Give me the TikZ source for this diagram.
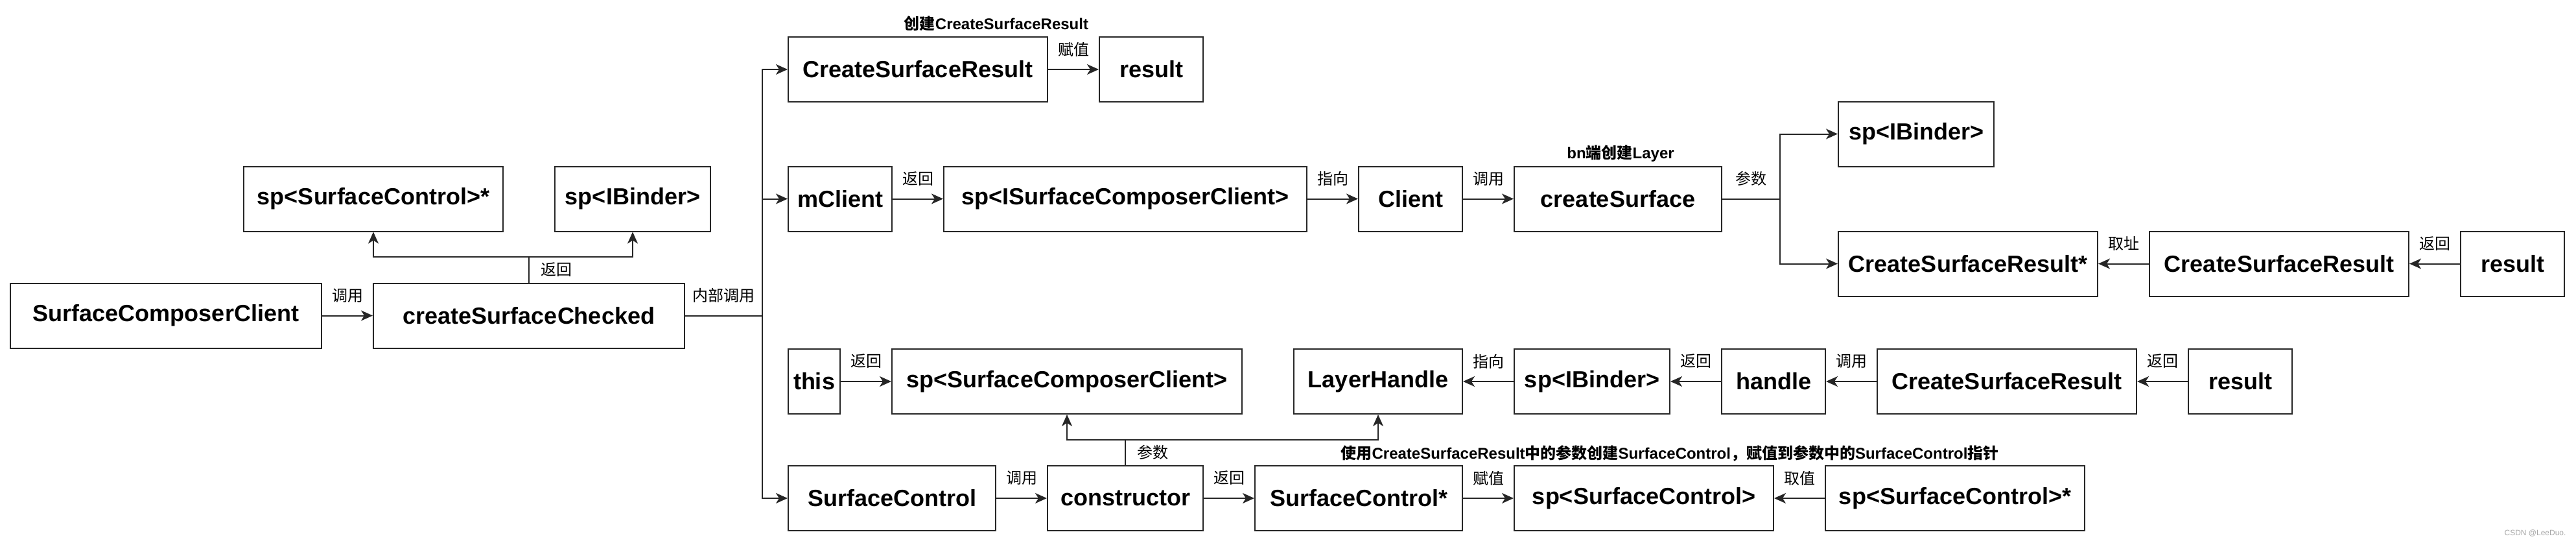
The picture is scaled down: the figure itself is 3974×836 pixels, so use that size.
\documentclass[tikz,border=0pt]{standalone}
\usepackage{fontspec}
\setmainfont{Liberation Sans}
\newfontfamily\cjk{Noto Sans CJK SC}
\usetikzlibrary{arrows.meta}
\newcommand{\zh}[1]{{\cjk #1}}
\begin{document}
\begin{tikzpicture}[x=1pt,y=-1pt,
  box/.style={draw=black!85, line width=2pt, font=\bfseries\fontsize{36}{40}\selectfont, inner sep=0pt, minimum height=100pt},
  arr/.style={line width=2pt, draw=black!85, -{Stealth[length=18pt,width=16pt,inset=5pt]}},
  ln/.style={line width=2pt, draw=black!85},
  lbl/.style={font=\fontsize{24}{28}\selectfont, inner sep=0pt},
  blbl/.style={font=\bfseries\fontsize{24}{28}\selectfont, inner sep=0pt},
  el/.style={lbl, midway, yshift=31pt},
]
\useasboundingbox (0,0) rectangle (3974,836);
\fill[white] (0,0) rectangle (3974,836);

% left group
\node[box, minimum width=480pt] (scc) at (256,486.5) {SurfaceComposerClient};
\node[box, minimum width=480pt] (csc) at (816,486.5) {createSurfaceChecked};
\node[box, minimum width=400pt] (spsc1) at (576,306.5) {sp<SurfaceControl>*};
\node[box, minimum width=240pt] (spib1) at (976,306.5) {sp<IBinder>};

% top row
\node[box, minimum width=400pt] (csr1) at (1416,107) {CreateSurfaceResult};
\node[box, minimum width=160pt] (res1) at (1776,107) {result};

% mClient row
\node[box, minimum width=160pt] (mclient) at (1296,306.5) {mClient};
\node[box, minimum width=560pt] (spiscc) at (1736,306.5) {sp<ISurfaceComposerClient>};
\node[box, minimum width=160pt] (client) at (2176,306.5) {Client};
\node[box, minimum width=320pt] (cs) at (2496,306.5) {createSurface};
\node[box, minimum width=240pt] (spib2) at (2956,206.5) {sp<IBinder>};
\node[box, minimum width=400pt] (csrstar) at (3036,406.5) {CreateSurfaceResult*};
\node[box, minimum width=400pt] (csr2) at (3516,406.5) {CreateSurfaceResult};
\node[box, minimum width=160pt] (res2) at (3876,406.5) {result};

% this row
\node[box, minimum width=80pt] (this) at (1256,588) {this};
\node[box, minimum width=540pt] (spscc) at (1646,588) {sp<SurfaceComposerClient>};
\node[box, minimum width=260pt] (lh) at (2126,588) {LayerHandle};
\node[box, minimum width=240pt] (spib3) at (2456,588) {sp<IBinder>};
\node[box, minimum width=160pt] (handle) at (2736,588) {handle};
\node[box, minimum width=400pt] (csr3) at (3096,588) {CreateSurfaceResult};
\node[box, minimum width=160pt] (res3) at (3456,588) {result};

% bottom row
\node[box, minimum width=320pt] (sc) at (1376,768) {SurfaceControl};
\node[box, minimum width=240pt] (ctor) at (1736,768) {constructor};
\node[box, minimum width=320pt] (scstar) at (2096,768) {SurfaceControl*};
\node[box, minimum width=400pt] (spsc2) at (2536,768) {sp<SurfaceControl>};
\node[box, minimum width=400pt] (spsc3) at (3016,768) {sp<SurfaceControl>*};

% annotations
\node[blbl] (ann1) at (1537,36) {\zh{创建}CreateSurfaceResult};
\node[blbl] (ann2) at (2500,237) {bn\zh{端创建}Layer};
\node[blbl] (ann3) at (2576,699) {\zh{使用}CreateSurfaceResult\zh{中的参数创建}SurfaceControl\zh{，赋值到参数中的}SurfaceControl\zh{指针}};
\node[font=\fontsize{12}{14}\selectfont, text=gray!70, inner sep=0pt] (wm) at (3911,822) {CSDN @LeeDuo.};

% left edges
\draw[arr] (scc) -- node[el]{\zh{调用}} (csc);
\coordinate (b1) at (816,396);
\draw[ln] (csc.north) -- node[lbl, midway, anchor=west, xshift=17pt]{\zh{返回}} (b1);
\draw[arr] (b1) -| (spsc1.south);
\draw[arr] (b1) -| (spib1.south);

% trunk
\coordinate (j) at (1176,486.5);
\draw[ln] (csc.east) -- node[el]{\zh{内部调用}} (j);
\draw[arr] (j) |- (csr1.west);
\draw[arr] (j) |- (mclient.west);
\draw[arr] (j) |- (sc.west);

% top row
\draw[arr] (csr1) -- node[el]{\zh{赋值}} (res1);

% mClient row
\draw[arr] (mclient) -- node[el]{\zh{返回}} (spiscc);
\draw[arr] (spiscc) -- node[el]{\zh{指向}} (client);
\draw[arr] (client) -- node[el]{\zh{调用}} (cs);
\coordinate (b3) at (2746,306.5);
\draw[ln] (cs.east) -- node[el]{\zh{参数}} (b3);
\draw[arr] (b3) |- (spib2.west);
\draw[arr] (b3) |- (csrstar.west);
\draw[arr] (csr2) -- node[el]{\zh{取址}} (csrstar);
\draw[arr] (res2) -- node[el]{\zh{返回}} (csr2);

% this row
\draw[arr] (this) -- node[el]{\zh{返回}} (spscc);
\draw[arr] (spib3) -- node[el]{\zh{指向}} (lh);
\draw[arr] (handle) -- node[el]{\zh{返回}} (spib3);
\draw[arr] (csr3) -- node[el]{\zh{调用}} (handle);
\draw[arr] (res3) -- node[el]{\zh{返回}} (csr3);

% bottom row
\draw[arr] (sc) -- node[el]{\zh{调用}} (ctor);
\draw[arr] (ctor) -- node[el]{\zh{返回}} (scstar);
\draw[arr] (scstar) -- node[el]{\zh{赋值}} (spsc2);
\draw[arr] (spsc3) -- node[el]{\zh{取值}} (spsc2);
\coordinate (b2) at (1736,678);
\draw[ln] (ctor.north) -- node[lbl, midway, anchor=west, xshift=17pt]{\zh{参数}} (b2);
\draw[arr] (b2) -| (spscc.south);
\draw[arr] (b2) -| (lh.south);
\end{tikzpicture}
\end{document}
